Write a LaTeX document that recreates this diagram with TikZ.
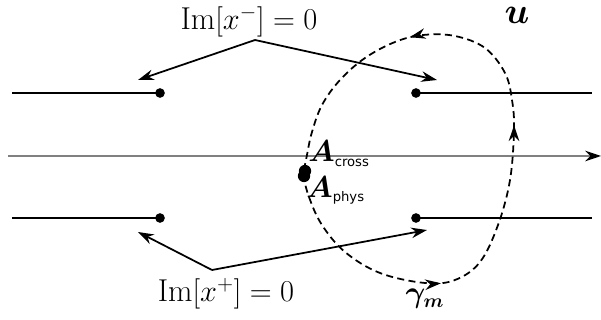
\documentclass[tikz,border=0pt]{standalone}
\usepackage{amsmath}
\usepackage{bm}
\usepackage{fontspec}
\setsansfont{DejaVu Sans}
\usepackage{tikz}
\usetikzlibrary{positioning,arrows.meta,decorations.markings}

\newcommand{\subtxt}[1]{\text{\fontsize{7.5}{8}\selectfont\sffamily #1}}

\begin{document}
\begin{tikzpicture}[
  x=0.02cm, y=-0.02cm,
  cut/.style={line width=1.1pt},
  pt/.style={circle, fill, inner sep=0pt, minimum size=5.5pt},
  lbl/.style={font=\fontsize{18}{20}\selectfont, inner sep=0pt},
  arr/.style={-{Stealth[length=9pt, width=6pt]}, line width=1pt},
  axis/.style={gray, line width=1.1pt, -{Stealth[length=9pt, width=6pt, black]}},
  contour/.style={line width=1pt, dash pattern=on 4pt off 2.5pt,
    postaction={decorate, decoration={markings,
      mark=at position 0.232 with {\arrow{Stealth[length=9pt, width=6pt]}},
      mark=at position 0.49 with {\arrow{Stealth[length=9pt, width=6pt]}},
      mark=at position 0.714 with {\arrow{Stealth[length=9pt, width=6pt]}}}}}
]
  \useasboundingbox (0,0) rectangle (601,320);

  % real axis
  \coordinate (ax0) at (8,156);
  \coordinate (ax1) at (601,156);
  \draw[axis] (ax0) -- (ax1);

  % branch points and cuts
  \node[pt] (tl) at (160,93) {};
  \node[pt] (tr) at (416,93) {};
  \node[pt] (bl) at (160,218) {};
  \node[pt] (br) at (416,218) {};
  \coordinate (tlend) at (12,93);
  \coordinate (trend) at (592,93);
  \coordinate (blend) at (12,218);
  \coordinate (brend) at (592,218);
  \draw[cut] (tlend) -- (tl.center);
  \draw[cut] (tr.center) -- (trend);
  \draw[cut] (blend) -- (bl.center);
  \draw[cut] (br.center) -- (brend);

  % labels
  \node[lbl] (xm) at (249,22) {$\mathrm{Im}[x^{-}]=0$};
  \node[lbl] (xp) at (226,294) {$\mathrm{Im}[x^{+}]=0$};
  \node[font=\fontsize{22}{24}\selectfont, inner sep=0pt] (u) at (517,15) {$\bm{u}$};
  \node[font=\fontsize{16}{18}\selectfont, inner sep=0pt] (gam) at (425,299) {$\bm{\gamma_m}$};

  \coordinate (xmfoot) at (255,40);
  \coordinate (xpfoot) at (212,270);
  \coordinate (xmL) at (138,80);
  \coordinate (xmR) at (437,80);
  \coordinate (xpL) at (138,232);
  \coordinate (xpR) at (427,230);
  \draw[arr] (xmfoot) -- (xmL);
  \draw[arr] (xmfoot) -- (xmR);
  \draw[arr] (xpfoot) -- (xpL);
  \draw[arr] (xpfoot) -- (xpR);

  % contour
  \draw[contour] plot[smooth cycle, tension=0.6] coordinates {
    (304,175) (309,197) (322,225) (345,252) (380,273) (425,283) (455,280)
    (480,262) (498,225) (510,180) (514,130) (512,100) (505,73) (485,48)
    (455,36) (423,35) (395,42) (365,58) (340,80) (322,105) (312,132) (307,155)};

  % the two points
  \node[pt, minimum size=7pt] (acr) at (305,171) {};
  \node[pt, minimum size=7pt] (aph) at (304,176) {};
  \node[anchor=south west, font=\fontsize{16}{18}\selectfont, inner sep=0pt] (acrl) at (308,167)
    {$\bm{A}_{\subtxt{cross}}$};
  \node[anchor=north west, font=\fontsize{16}{18}\selectfont, inner sep=0pt] (aphl) at (306,176)
    {$\bm{A}_{\subtxt{phys}}$};
\end{tikzpicture}
\end{document}
